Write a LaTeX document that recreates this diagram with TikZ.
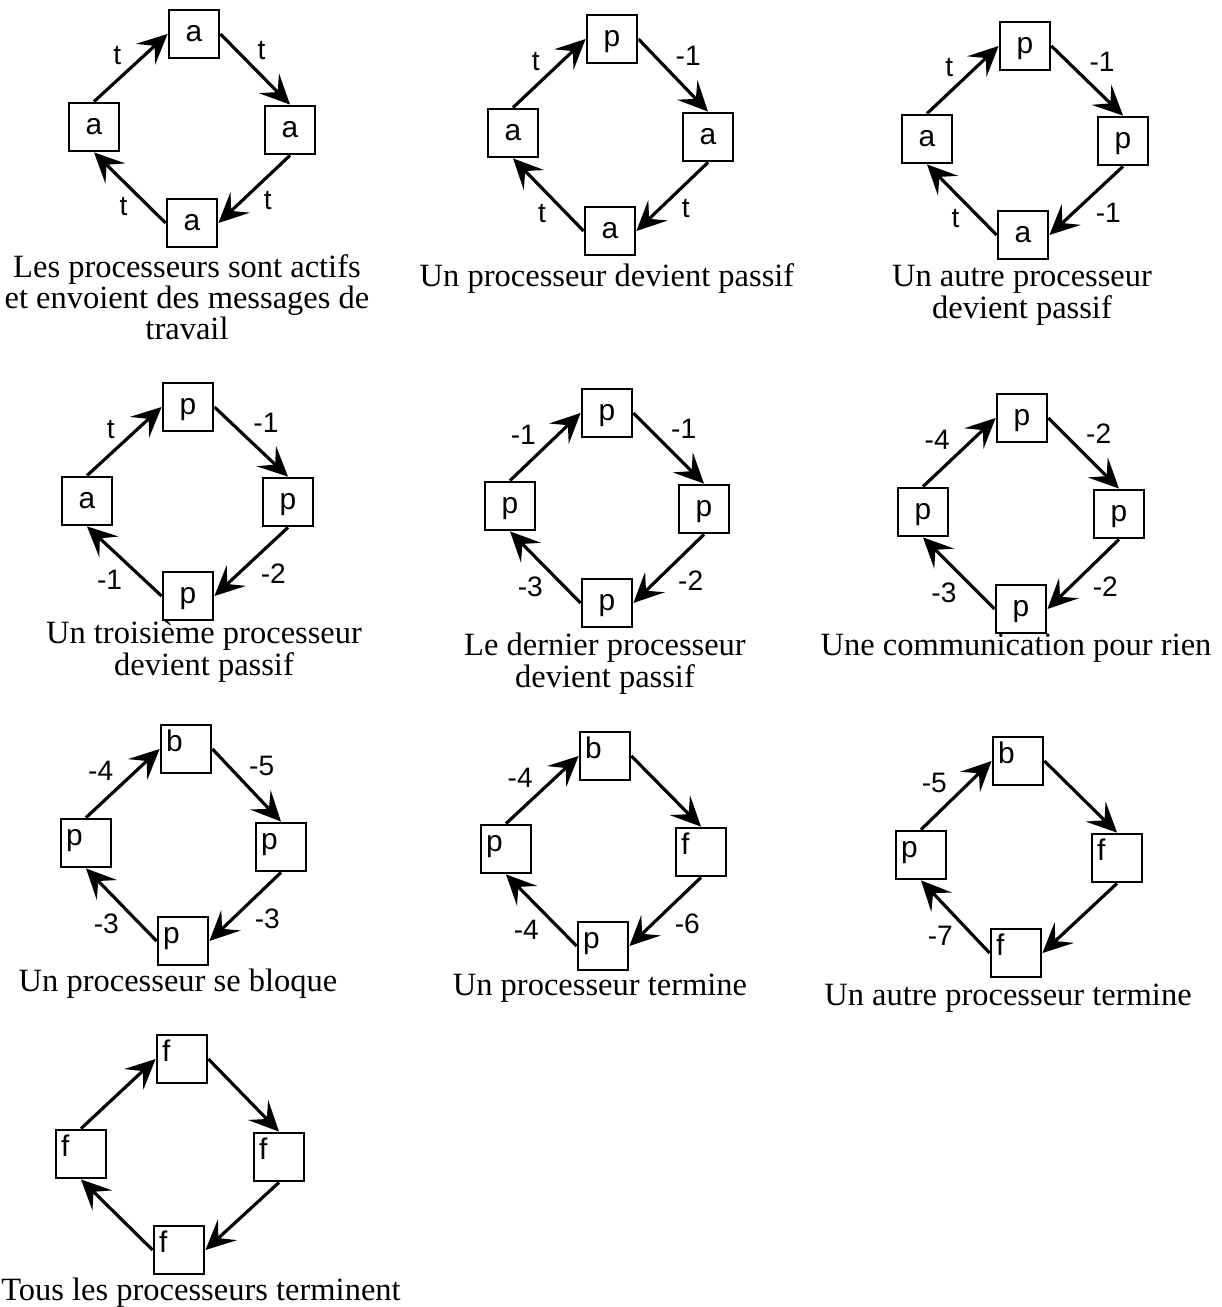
\documentclass[tikz,border=0pt]{standalone}
\usepackage{fontspec}
\setmainfont{Liberation Serif}
\setsansfont{Liberation Sans}
\usetikzlibrary{arrows.meta}

\tikzset{
  proc/.style={draw, line width=1.6pt, minimum width=1cm, minimum height=0.96cm,
    inner sep=0pt, font=\sffamily\fontsize{17}{19}\selectfont,
    text height=10pt, text depth=1.6pt},
  procul/.style={proc, text width=0.8cm, align=left, text depth=7.6pt},
  ring/.style={line width=1.8pt, -{Stealth[length=17pt, width=16pt, inset=7pt]}},
  tag/.style={auto, pos=0.45, inner sep=2.5pt, font=\sffamily\fontsize{16}{18}\selectfont},
  legend/.style={align=center, anchor=north, inner sep=0pt,
    font=\fontsize{18.5}{16.5}\selectfont},
}

\begin{document}
\begin{tikzpicture}[x=0.02cm, y=-0.02cm]
    \useasboundingbox (0,0) rectangle (1221,1307);
    %
    % Ten snapshots of a ring of four processors, read left to right,
    % top to bottom. Each ring: l -> t -> r -> b -> l (clockwise).
    % Coordinates are in pixels of the original scan (y grows downwards).
    %

    %% -- 1: all active ------------------------------------------------
    \node[proc] (r1t) at (194,34)  {a};
    \node[proc] (r1l) at (94,127)  {a};
    \node[proc] (r1r) at (290,130) {a};
    \node[proc] (r1b) at (192,223) {a};
    \draw[ring] (r1l.north) -- node[tag]{t} (r1t.west);
    \draw[ring] (r1t.east)  -- node[tag]{t} (r1r.north);
    \draw[ring] (r1r.south) -- node[tag]{t} (r1b.east);
    \draw[ring] (r1b.west)  -- node[tag]{t} (r1l.south);
    \node[legend] (c1) at (187,254)
      {Les processeurs sont actifs\\et envoient des messages de\\travail};

    %% -- 2 ------------------------------------------------------------
    \node[proc] (r2t) at (612,39)  {p};
    \node[proc] (r2l) at (513,133) {a};
    \node[proc] (r2r) at (708,137) {a};
    \node[proc] (r2b) at (610,231) {a};
    \draw[ring] (r2l.north) -- node[tag]{t}  (r2t.west);
    \draw[ring] (r2t.east)  -- node[tag]{-1} (r2r.north);
    \draw[ring] (r2r.south) -- node[tag]{t}  (r2b.east);
    \draw[ring] (r2b.west)  -- node[tag]{t}  (r2l.south);
    \node[legend] (c2) at (607,263) {Un processeur devient passif};

    %% -- 3 ------------------------------------------------------------
    \node[proc] (r3t) at (1025,46)  {p};
    \node[proc] (r3l) at (927,139)  {a};
    \node[proc] (r3r) at (1123,141) {p};
    \node[proc] (r3b) at (1023,235) {a};
    \draw[ring] (r3l.north) -- node[tag]{t}  (r3t.west);
    \draw[ring] (r3t.east)  -- node[tag]{-1} (r3r.north);
    \draw[ring] (r3r.south) -- node[tag]{-1} (r3b.east);
    \draw[ring] (r3b.west)  -- node[tag]{t}  (r3l.south);
    \node[legend] (c3) at (1022,265) {Un autre processeur\\devient passif};

    %% -- 4 ------------------------------------------------------------
    \node[proc] (r4t) at (188,407) {p};
    \node[proc] (r4l) at (87,501)  {a};
    \node[proc] (r4r) at (288,502) {p};
    \node[proc] (r4b) at (188,596) {p};
    \draw[ring] (r4l.north) -- node[tag]{t}  (r4t.west);
    \draw[ring] (r4t.east)  -- node[tag]{-1} (r4r.north);
    \draw[ring] (r4r.south) -- node[tag]{-2} (r4b.east);
    \draw[ring] (r4b.west)  -- node[tag]{-1} (r4l.south);
    \node[legend] (c4) at (204,621) {Un troisième processeur\\devient passif};

    %% -- 5 ------------------------------------------------------------
    \node[proc] (r5t) at (607,413) {p};
    \node[proc] (r5l) at (510,506) {p};
    \node[proc] (r5r) at (704,509) {p};
    \node[proc] (r5b) at (607,603) {p};
    \draw[ring] (r5l.north) -- node[tag]{-1} (r5t.west);
    \draw[ring] (r5t.east)  -- node[tag]{-1} (r5r.north);
    \draw[ring] (r5r.south) -- node[tag]{-2} (r5b.east);
    \draw[ring] (r5b.west)  -- node[tag]{-3} (r5l.south);
    \node[legend] (c5) at (605,633) {Le dernier processeur\\devient passif};

    %% -- 6 ------------------------------------------------------------
    \node[proc] (r6t) at (1022,418) {p};
    \node[proc] (r6l) at (923,512)  {p};
    \node[proc] (r6r) at (1119,514) {p};
    \node[proc] (r6b) at (1021,609) {p};
    \draw[ring] (r6l.north) -- node[tag]{-4} (r6t.west);
    \draw[ring] (r6t.east)  -- node[tag]{-2} (r6r.north);
    \draw[ring] (r6r.south) -- node[tag]{-2} (r6b.east);
    \draw[ring] (r6b.west)  -- node[tag]{-3} (r6l.south);
    \node[legend] (c6) at (1016,634) {Une communication pour rien};

    %% -- 7 ------------------------------------------------------------
    \node[procul] (r7t) at (186,749) {b};
    \node[procul] (r7l) at (86,843)  {p};
    \node[procul] (r7r) at (281,847) {p};
    \node[procul] (r7b) at (183,941) {p};
    \draw[ring] (r7l.north) -- node[tag]{-4} (r7t.west);
    \draw[ring] (r7t.east)  -- node[tag]{-5} (r7r.north);
    \draw[ring] (r7r.south) -- node[tag]{-3} (r7b.east);
    \draw[ring] (r7b.west)  -- node[tag]{-3} (r7l.south);
    \node[legend] (c7) at (178,969) {Un processeur se bloque};

    %% -- 8 ------------------------------------------------------------
    \node[procul] (r8t) at (605,756) {b};
    \node[procul] (r8l) at (506,849) {p};
    \node[procul] (r8r) at (701,852) {f};
    \node[procul] (r8b) at (603,946) {p};
    \draw[ring] (r8l.north) -- node[tag]{-4} (r8t.west);
    \draw[ring] (r8t.east)  -- (r8r.north);
    \draw[ring] (r8r.south) -- node[tag]{-6} (r8b.east);
    \draw[ring] (r8b.west)  -- node[tag]{-4} (r8l.south);
    \node[legend] (c8) at (600,974) {Un processeur termine};

    %% -- 9 ------------------------------------------------------------
    \node[procul] (r9t) at (1018,761) {b};
    \node[procul] (r9l) at (921,855)  {p};
    \node[procul] (r9r) at (1117,858) {f};
    \node[procul] (r9b) at (1016,953) {f};
    \draw[ring] (r9l.north) -- node[tag]{-5} (r9t.west);
    \draw[ring] (r9t.east)  -- (r9r.north);
    \draw[ring] (r9r.south) -- (r9b.east);
    \draw[ring] (r9b.west)  -- node[tag]{-7} (r9l.south);
    \node[legend] (c9) at (1008,984) {Un autre processeur termine};

    %% -- 10: all finished ---------------------------------------------
    \node[procul] (r10t) at (182,1059) {f};
    \node[procul] (r10l) at (81,1154)  {f};
    \node[procul] (r10r) at (279,1157) {f};
    \node[procul] (r10b) at (179,1250) {f};
    \draw[ring] (r10l.north) -- (r10t.west);
    \draw[ring] (r10t.east)  -- (r10r.north);
    \draw[ring] (r10r.south) -- (r10b.east);
    \draw[ring] (r10b.west)  -- (r10l.south);
    \node[legend] (c10) at (201,1278) {Tous les processeurs terminent};

  \end{tikzpicture}
\end{document}
